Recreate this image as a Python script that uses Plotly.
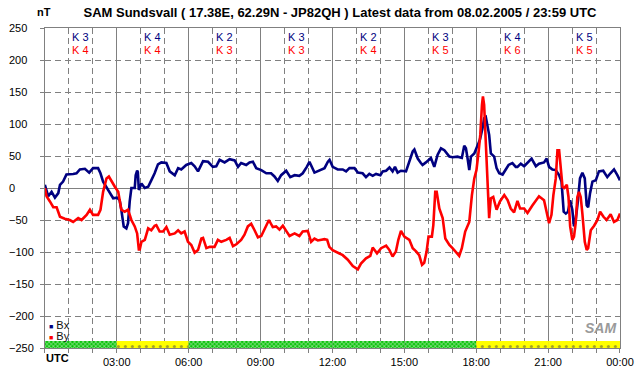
import plotly.graph_objects as go

# ---------------- data ----------------
bx_hours = [0, 0.14, 0.28, 0.42, 0.56, 0.63, 0.76, 0.9, 1.18, 1.32, 1.46, 1.67, 1.85, 2.01, 2.22, 2.32, 2.43, 2.57, 2.71, 2.85,
            3.01, 3.12, 3.19, 3.29, 3.4, 3.47, 3.54, 3.61, 3.75, 3.79, 3.85, 3.88, 3.92, 4.03, 4.17, 4.31, 4.44, 4.58, 4.72, 4.86,
            5.07, 5.21, 5.42, 5.56, 5.69, 5.9, 6.11, 6.25, 6.39, 6.6, 6.81, 7.01, 7.15, 7.29, 7.5, 7.71, 7.92, 8.06, 8.19, 8.4,
            8.54, 8.68, 8.82, 9.03, 9.24, 9.44, 9.58, 9.72, 9.86, 10.07, 10.24, 10.42, 10.62, 10.76, 10.93, 11.04, 11.25, 11.46, 11.67, 11.81,
            11.88, 12.01, 12.22, 12.43, 12.57, 12.71, 12.92, 13.06, 13.26, 13.4, 13.54, 13.68, 13.82, 14.0, 14.1, 14.24, 14.38, 14.51, 14.61, 14.72,
            14.86, 15.07, 15.21, 15.35, 15.42, 15.56, 15.69, 15.76, 15.9, 16.11, 16.25, 16.39, 16.53, 16.67, 16.88, 17.01, 17.22, 17.4, 17.5, 17.57,
            17.64, 17.71, 17.78, 17.92, 18.06, 18.15, 18.26, 18.33, 18.4, 18.47, 18.54, 18.61, 18.75, 18.85, 18.96, 19.1, 19.21, 19.35, 19.51, 19.65,
            19.72, 19.86, 20.0, 20.17, 20.31, 20.49, 20.62, 20.83, 20.94, 21.04, 21.18, 21.32, 21.46, 21.56, 21.65, 21.74, 21.83, 21.92, 22.01, 22.08,
            22.15, 22.24, 22.33, 22.43, 22.53, 22.61, 22.67, 22.75, 22.85, 22.99, 23.12, 23.3, 23.47, 23.6, 23.75, 23.89, 24.0]
bx_values = [5, -13, -6, -15, -8, 5, 10, 21, 22, 23, 29, 30, 24, 31, 31, 23, 10, 2, -8, -16,
             -15, -19, -34, -60, -63, -55, -21, 0, 0, 20, 27, 25, -3, 7, 0, 2, 12, 23, 37, 40,
             39, 26, 20, 31, 29, 36, 39, 34, 26, 42, 41, 33, 34, 44, 40, 45, 43, 33, 39, 36,
             40, 41, 31, 28, 23, 23, 18, 11, 20, 27, 17, 20, 19, 23, 33, 41, 24, 27, 31, 41,
             44, 33, 29, 29, 26, 31, 31, 24, 23, 17, 22, 19, 22, 20, 26, 27, 32, 26, 33, 24,
             27, 26, 41, 57, 60, 46, 39, 36, 40, 47, 33, 52, 62, 59, 49, 48, 49, 47, 66, 62,
             46, 28, 49, 54, 67, 75, 93, 109, 111, 98, 83, 54, 49, 31, 23, 21, 28, 36, 39, 33,
             33, 38, 34, 41, 46, 34, 38, 40, 46, 33, 29, 28, 20, 10, -37, -40, -37, -19, -34, -60,
             -50, -21, 15, 24, 15, -27, -30, -8, 10, 12, 26, 27, 17, 23, 29, 20, 12]

by_hours = [0, 0.07, 0.21, 0.35, 0.49, 0.63, 0.83, 1.04, 1.18, 1.39, 1.53, 1.74, 1.88, 2.01, 2.22, 2.32, 2.43, 2.57, 2.67, 2.78,
            2.92, 3.06, 3.19, 3.33, 3.47, 3.61, 3.75, 3.85, 3.92, 3.96, 4.03, 4.17, 4.31, 4.44, 4.58, 4.65, 4.79, 4.93, 5.07, 5.21,
            5.42, 5.56, 5.69, 5.83, 5.97, 6.11, 6.25, 6.39, 6.53, 6.6, 6.74, 6.88, 7.08, 7.22, 7.36, 7.57, 7.71, 7.85, 7.99, 8.19,
            8.33, 8.47, 8.61, 8.75, 8.89, 9.03, 9.17, 9.35, 9.51, 9.65, 9.79, 9.93, 10.07, 10.21, 10.42, 10.62, 10.76, 10.97, 11.11, 11.25,
            11.39, 11.53, 11.67, 11.78, 11.87, 12.01, 12.22, 12.43, 12.64, 12.85, 13.06, 13.19, 13.4, 13.58, 13.68, 13.86, 14.03, 14.24, 14.38, 14.51,
            14.65, 14.75, 14.86, 15.0, 15.21, 15.35, 15.49, 15.62, 15.74, 15.83, 15.93, 16.01, 16.15, 16.21, 16.29, 16.35, 16.46, 16.6, 16.71, 16.88,
            17.01, 17.18, 17.29, 17.4, 17.54, 17.71, 17.82, 17.92, 18.01, 18.1, 18.17, 18.24, 18.28, 18.33, 18.4, 18.47, 18.54, 18.61, 18.71, 18.85,
            18.99, 19.17, 19.31, 19.44, 19.58, 19.72, 19.83, 20.0, 20.14, 20.35, 20.49, 20.62, 20.83, 20.94, 21.04, 21.14, 21.22, 21.32, 21.39, 21.46,
            21.53, 21.6, 21.67, 21.78, 21.85, 21.92, 22.01, 22.08, 22.15, 22.22, 22.29, 22.36, 22.43, 22.53, 22.61, 22.67, 22.78, 22.92, 23.06, 23.17,
            23.31, 23.44, 23.61, 23.75, 23.89, 24.0]
by_values = [0, -13, -21, -30, -30, -45, -48, -50, -53, -47, -50, -42, -34, -42, -42, -34, -6, 15, 18, 10,
             2, -6, -34, -37, -34, -50, -60, -71, -96, -96, -84, -81, -63, -66, -59, -58, -68, -68, -61, -73,
             -71, -66, -71, -68, -84, -89, -101, -97, -79, -78, -94, -92, -92, -81, -84, -81, -78, -91, -88, -81,
             -73, -60, -56, -66, -77, -75, -63, -50, -61, -60, -65, -59, -67, -75, -71, -75, -68, -67, -84, -79,
             -82, -81, -80, -81, -92, -97, -101, -105, -112, -122, -127, -118, -110, -106, -93, -102, -94, -90, -97, -107,
             -99, -81, -67, -76, -81, -94, -99, -105, -120, -117, -99, -76, -76, -58, -6, -6, -32, -47, -79, -89,
             -94, -102, -106, -94, -68, -53, -11, 15, 28, 57, 83, 130, 143, 130, 75, 10, -47, -16, -14, -34,
             -21, -11, -19, -32, -38, -20, -32, -32, -39, -27, -19, -13, -19, -40, -55, -42, -11, 15, 59, 59,
             33, 2, 0, 5, -14, -60, -81, -76, -55, -14, -6, -14, -40, -84, -97, -94, -66, -59, -50, -37,
             -45, -50, -41, -53, -50, -40]

series_names = ["Bx", "By"]
series_colors = ["#000080", "#ff0000"]

# K indices per 3-hour block
block_start_hours = [0, 3, 6, 9, 12, 15, 18, 21]
k_bx = [3, 4, 2, 3, 2, 3, 4, 5]
k_by = [4, 4, 3, 3, 4, 5, 6, 5]
status = ["ok", "warn", "ok", "ok", "ok", "ok", "warn", "warn"]

tick_hours = [0, 3, 6, 9, 12, 15, 18, 21, 24]
tick_labels = ["", "03:00", "06:00", "09:00", "12:00", "15:00", "18:00", "21:00", "00:00"]
y_ticks = [250, 200, 150, 100, 50, 0, -50, -100, -150, -200, -250]

title_text = "SAM Sundsvall ( 17.38E, 62.29N - JP82QH ) Latest data from 08.02.2005 / 23:59 UTC"

# ---------------- geometry ----------------
W, H = 642, 376
ML, MR, MT, MB = 8, 20, 28, 28
PLOT_LEFT = 45
YMIN, YMAX = -250, 250
PLOT_H = H - MT - MB
PLOT_W = W - ML - MR
px_per_nt = PLOT_H / (YMAX - YMIN)
band_nt = 7 / px_per_nt


def paper_x(px):
    return (px - ML) / PLOT_W


def paper_y(py):
    return (H - MB - py) / PLOT_H


FONT = "Liberation Sans, Arial, sans-serif"
GRID = "#808080"

fig = go.Figure()

# status band at the bottom
fig.add_trace(go.Bar(
    x=[h + 1.5 for h in block_start_hours],
    y=[band_nt] * len(status),
    base=[YMIN] * len(status),
    width=[3] * len(status),
    marker=dict(
        color=["#00c000" if s == "ok" else "#ffff00" for s in status],
        line=dict(width=0),
        pattern=dict(
            shape=["x" if s == "ok" else "." for s in status],
            fgcolor=["#008a00" if s == "ok" else "#ff0000" for s in status],
            bgcolor=["#00c000" if s == "ok" else "#ffff00" for s in status],
            size=[3 if s == "ok" else 7 for s in status],
            solidity=[0.5 if s == "ok" else 0.15 for s in status],
        ),
    ),
    hoverinfo="skip", showlegend=False, yaxis="y",
))

fig.add_trace(go.Scatter(x=bx_hours, y=bx_values, mode="lines", name=series_names[0],
                         line=dict(color=series_colors[0], width=2.6), hoverinfo="skip",
                         showlegend=False, yaxis="y"))
fig.add_trace(go.Scatter(x=by_hours, y=by_values, mode="lines", name=series_names[1],
                         line=dict(color=series_colors[1], width=2.6), hoverinfo="skip",
                         showlegend=False, yaxis="y2"))

fig.update_layout(
    width=W, height=H,
    margin=dict(l=ML, r=MR, t=MT, b=MB, pad=0),
    paper_bgcolor="white", plot_bgcolor="white",
    font=dict(family=FONT, size=11, color="black"),
    barmode="overlay",
    hovermode=False,
    title=dict(text="<b>" + title_text + "</b>", x=340 / W, xref="container", xanchor="center",
               y=1 - 12 / H, yref="container", yanchor="middle",
               font=dict(family=FONT, size=13, color="black")),
    xaxis=dict(
        domain=[paper_x(PLOT_LEFT), 1], range=[0, 24],
        tickmode="array", tickvals=tick_hours, ticktext=tick_labels,
        ticks="outside", ticklen=4, tickcolor=GRID,
        showgrid=True, gridcolor=GRID, gridwidth=1,
        showline=True, linecolor=GRID, linewidth=1, mirror=True,
        zeroline=False,
        minor=dict(dtick=1, tick0=0, ticks="outside", ticklen=4, tickcolor=GRID,
                   showgrid=True, gridcolor=GRID, griddash="6px,4px", gridwidth=1),
        tickfont=dict(size=11),
    ),
    yaxis=dict(
        range=[YMIN, YMAX], tickmode="array", tickvals=y_ticks,
        showticklabels=False, ticks="outside", ticklen=4, tickcolor=GRID,
        showgrid=True, gridcolor=GRID, griddash="6px,4px", gridwidth=1,
        zeroline=True, zerolinecolor=GRID, zerolinewidth=1,
        showline=True, linecolor=GRID, linewidth=1, mirror=True,
    ),
    yaxis2=dict(
        range=[YMIN, YMAX], overlaying="y", anchor="free", position=0, side="right",
        tickmode="array", tickvals=y_ticks, showticklabels=True, ticks="",
        showgrid=False, zeroline=False, showline=False, ticklabelstandoff=0,
        tickfont=dict(size=11),
    ),
)

annotations = []
for i, h in enumerate(block_start_hours):
    annotations.append(dict(x=h + 1.5, y=236, xref="x", yref="y", text=f"K {k_bx[i]}",
                            showarrow=False, font=dict(size=11, color=series_colors[0])))
    annotations.append(dict(x=h + 1.5, y=216, xref="x", yref="y", text=f"K {k_by[i]}",
                            showarrow=False, font=dict(size=11, color=series_colors[1])))

annotations.append(dict(x=paper_x(44), y=paper_y(12), xref="paper", yref="paper", text="<b>nT</b>",
                        showarrow=False, xanchor="center", yanchor="middle"))
annotations.append(dict(x=0, xref="x", y=paper_y(358), yref="paper", text="<b>UTC</b>",
                        showarrow=False, xanchor="left", yanchor="middle", xshift=-1))

# legend
for i, (name, col) in enumerate(zip(series_names, series_colors)):
    annotations.append(dict(x=0, xref="x", xshift=2, y=paper_y(325 + 11 * i), yref="paper",
                            text=f"<span style='color:{col};font-size:7px'>■</span> {name}",
                            showarrow=False, xanchor="left", yanchor="middle",
                            font=dict(size=11, color="#101010")))

# logo
annotations.append(dict(x=23.2, xref="x", y=paper_y(328), yref="paper",
                        text="<b><i>SAM</i></b>", showarrow=False, xanchor="center", yanchor="middle",
                        font=dict(size=14, color="#9a9a9a")))

fig.update_layout(annotations=annotations)

fig.write_html("out.html", config={"displayModeBar": False, "staticPlot": True},
               post_script="document.body.style.margin='0';")
